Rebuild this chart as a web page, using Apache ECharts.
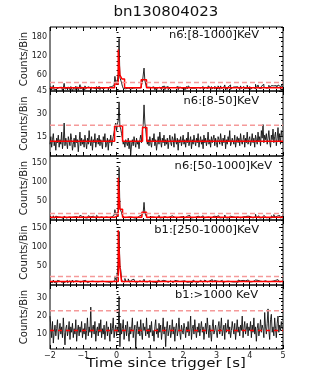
<!DOCTYPE html>
<html>
<head>
<meta charset="utf-8">
<script src="https://cdn.jsdelivr.net/npm/echarts@6/dist/echarts.min.js"></script>
<style>
html, body { margin: 0; padding: 0; background: #fff; }
#chart { width: 332px; height: 388px; }
</style>
</head>
<body>
<div id="chart"></div>
<script>
// light curve bins: 0.025 s wide, starting at -2 s (20 bins per row = 0.5 s)
var binStart = -2;
var binWidth = 0.025;

// n6:[8-1000]KeV
var counts1 = [
    16, 24, 13, 21, 28, 13, 19, 16, 20, 19, 21, 17, 20, 22, 24, 11, 20, 34, 16, 19,
    20, 13, 23, 23, 14, 24, 23, 10, 18, 20, 15, 25, 16, 23, 11, 20, 30, 16, 23, 15,
    21, 14, 26, 18, 12, 23, 21, 25, 20, 13, 22, 16, 19, 20, 22, 16, 24, 21, 16, 25,
    14, 21, 18, 17, 21, 21, 21, 16, 21, 21, 12, 22, 16, 24, 19, 19, 27, 27, 56, 38,
    30, 36, 61, 175, 52, 46, 36, 25, 18, 18, 17, 18, 18, 19, 20, 15, 16, 12, 17, 19,
    17, 20, 20, 15, 20, 20, 20, 18, 20, 25, 24, 37, 43, 82, 43, 32, 22, 16, 22, 16,
    20, 21, 16, 20, 23, 24, 14, 21, 12, 20, 22, 22, 23, 20, 14, 24, 18, 25, 14, 21,
    16, 24, 14, 20, 21, 20, 20, 21, 21, 15, 21, 21, 16, 24, 14, 20, 23, 21, 18, 19,
    24, 15, 22, 15, 24, 17, 26, 21, 19, 20, 16, 19, 21, 24, 19, 18, 19, 21, 23, 16,
    19, 24, 16, 24, 15, 21, 21, 21, 18, 18, 26, 22, 20, 13, 24, 17, 22, 24, 16, 23,
    17, 16, 26, 20, 15, 26, 18, 19, 22, 18, 29, 13, 22, 15, 23, 19, 29, 15, 20, 22,
    18, 19, 23, 18, 18, 23, 23, 21, 14, 26, 18, 18, 24, 23, 17, 19, 19, 28, 16, 20,
    24, 15, 20, 22, 21, 21, 17, 31, 19, 18, 29, 19, 20, 18, 25, 24, 31, 23, 23, 19,
    25, 20, 20, 28, 19, 13, 27, 21, 26, 25, 22, 27, 19, 20, 29, 24, 24, 15, 28, 23
];
// n6:[8-50]KeV
var counts2 = [
    10, 15, 8, 13, 17, 9, 12, 6, 14, 11, 16, 8, 13, 10, 18, 7, 12, 24, 9, 14,
    11, 7, 15, 12, 9, 17, 13, 6, 10, 14, 8, 16, 11, 13, 5, 12, 18, 9, 14, 10,
    13, 8, 16, 11, 7, 14, 10, 19, 12, 9, 15, 6, 13, 11, 17, 8, 12, 14, 10, 16,
    9, 13, 11, 7, 15, 12, 17, 8, 10, 14, 6, 13, 11, 16, 9, 12, 15, 18, 21, 24,
    19, 23, 26, 38, 22, 20, 17, 14, 10, 12, 8, 13, 11, 9, 14, 7, 12, 3, 10, 13,
    9, 15, 11, 8, 14, 10, 12, 7, 13, 16, 11, 19, 23, 36, 24, 20, 14, 10, 13, 9,
    15, 11, 8, 14, 12, 17, 9, 13, 6, 11, 15, 10, 18, 12, 8, 14, 11, 16, 9, 13,
    10, 14, 7, 12, 16, 11, 9, 15, 13, 8, 17, 12, 10, 14, 6, 13, 11, 15, 9, 12,
    16, 10, 13, 8, 14, 11, 18, 9, 12, 15, 7, 13, 10, 16, 12, 9, 14, 11, 17, 8,
    12, 15, 10, 13, 7, 16, 11, 14, 9, 12, 18, 10, 13, 8, 15, 11, 12, 16, 9, 14,
    11, 8, 15, 13, 10, 17, 12, 9, 14, 11, 16, 7, 13, 10, 15, 12, 19, 9, 11, 14,
    13, 10, 16, 8, 12, 15, 11, 14, 9, 17, 12, 10, 13, 16, 8, 14, 11, 18, 10, 13,
    15, 9, 12, 17, 11, 14, 8, 16, 13, 10, 18, 12, 15, 9, 19, 14, 23, 11, 16, 13,
    17, 10, 14, 19, 12, 8, 16, 13, 20, 11, 15, 18, 9, 14, 21, 12, 17, 10, 19, 15
];
// n6:[50-1000]KeV
var counts3 = [
    6, 9, 5, 8, 11, 4, 7, 10, 6, 8, 5, 9, 7, 12, 6, 4, 8, 10, 7, 5,
    9, 6, 8, 11, 5, 7, 10, 4, 8, 6, 7, 9, 5, 10, 6, 8, 12, 7, 9, 5,
    8, 6, 10, 7, 5, 9, 11, 6, 8, 4, 7, 10, 6, 9, 5, 8, 12, 7, 6, 9,
    5, 8, 7, 10, 6, 9, 4, 8, 11, 7, 6, 9, 5, 8, 10, 7, 12, 9, 27, 14,
    11, 13, 35, 137, 30, 26, 19, 11, 8, 6, 9, 5, 7, 10, 6, 8, 4, 9, 7, 6,
    8, 5, 9, 7, 6, 10, 8, 11, 7, 9, 13, 18, 20, 46, 19, 12, 8, 6, 9, 7,
    5, 10, 8, 6, 11, 7, 5, 8, 6, 9, 7, 12, 5, 8, 6, 10, 7, 9, 5, 8,
    6, 10, 7, 8, 5, 9, 11, 6, 8, 7, 4, 9, 6, 10, 8, 7, 12, 6, 9, 7,
    8, 5, 9, 7, 10, 6, 8, 12, 7, 5, 9, 6, 11, 8, 7, 9, 5, 10, 6, 8,
    7, 9, 6, 11, 8, 5, 10, 7, 9, 6, 8, 12, 7, 5, 9, 6, 10, 8, 7, 9,
    6, 8, 11, 7, 5, 9, 6, 10, 8, 7, 13, 6, 9, 5, 8, 7, 10, 6, 9, 8,
    5, 9, 7, 10, 6, 8, 12, 7, 5, 9, 6, 8, 11, 7, 9, 5, 8, 10, 6, 7,
    9, 6, 8, 5, 10, 7, 9, 15, 6, 8, 11, 7, 5, 9, 6, 10, 8, 12, 7, 6,
    8, 10, 6, 9, 7, 5, 11, 8, 6, 14, 7, 9, 10, 6, 8, 12, 7, 5, 9, 8
];
// b1:[250-1000]KeV
var counts4 = [
    8, 11, 6, 9, 13, 7, 10, 5, 9, 12, 7, 10, 8, 14, 6, 9, 11, 7, 10, 8,
    12, 6, 9, 11, 8, 5, 10, 13, 7, 9, 11, 8, 6, 10, 9, 12, 7, 10, 8, 11,
    9, 7, 12, 8, 10, 6, 11, 9, 13, 7, 10, 8, 12, 9, 6, 11, 8, 10, 7, 9,
    11, 8, 10, 6, 12, 9, 7, 11, 8, 10, 13, 7, 9, 11, 8, 10, 6, 12, 20, 16,
    11, 14, 58, 140, 46, 40, 15, 9, 12, 8, 17, 10, 14, 9, 16, 11, 7, 10, 13, 9,
    15, 12, 8, 10, 7, 12, 9, 11, 6, 10, 8, 13, 11, 15, 9, 12, 8, 10, 7, 11,
    9, 13, 8, 10, 12, 7, 9, 11, 6, 10, 13, 8, 9, 11, 7, 12, 10, 8, 11, 9,
    10, 7, 12, 9, 11, 8, 13, 6, 10, 9, 12, 8, 11, 7, 10, 9, 14, 8, 10, 12,
    8, 11, 9, 13, 7, 10, 12, 8, 9, 11, 6, 10, 13, 9, 8, 12, 10, 7, 11, 9,
    12, 8, 10, 7, 11, 9, 13, 10, 8, 12, 9, 11, 7, 10, 14, 8, 9, 12, 10, 8,
    10, 13, 7, 9, 11, 8, 12, 10, 6, 11, 9, 13, 8, 10, 12, 7, 9, 11, 10, 8,
    9, 11, 8, 12, 10, 7, 13, 9, 11, 8, 10, 12, 7, 9, 11, 10, 8, 13, 9, 11,
    8, 12, 10, 9, 11, 7, 13, 10, 8, 12, 9, 11, 10, 14, 8, 9, 12, 10, 11, 9,
    11, 8, 10, 13, 9, 12, 7, 10, 11, 9, 12, 8, 10, 14, 9, 11, 8, 12, 10, 9
];
// b1:>1000 KeV
var counts5 = [
    20, 14, 8, 17, 5, 11, 15, 9, 13, 18, 7, 12, 16, 10, 14, 8, 19, 11, 4, 13,
    15, 9, 12, 17, 7, 14, 11, 16, 8, 13, 10, 18, 6, 12, 15, 9, 14, 11, 17, 8,
    13, 10, 16, 7, 12, 19, 9, 14, 11, 25, 8, 13, 15, 10, 17, 6, 12, 14, 9, 16,
    11, 18, 8, 13, 10, 15, 7, 12, 17, 9, 14, 11, 6, 16, 10, 13, 19, 8, 12, 15,
    9, 14, 11, 31, 3, 16, 10, 13, 18, 7, 12, 15, 9, 17, 11, 6, 14, 10, 13, 19,
    8, 12, 15, 2, 13, 17, 10, 14, 9, 18, 11, 7, 16, 12, 14, 9, 19, 10, 13, 8,
    15, 11, 17, 9, 12, 6, 14, 18, 10, 13, 8, 16, 11, 15, 7, 12, 19, 10, 14, 3,
    13, 17, 9, 12, 15, 8, 11, 18, 10, 14, 6, 13, 16, 9, 12, 19, 11, 7, 15, 12,
    10, 16, 13, 8, 14, 11, 17, 9, 12, 20, 7, 13, 15, 10, 18, 12, 8, 14, 11, 16,
    9, 13, 17, 11, 14, 7, 12, 16, 10, 19, 13, 8, 15, 11, 6, 14, 18, 10, 12, 15,
    11, 8, 14, 17, 10, 13, 19, 9, 12, 15, 7, 16, 11, 13, 18, 10, 14, 8, 12, 17,
    13, 10, 16, 7, 12, 18, 11, 14, 9, 15, 12, 20, 8, 13, 17, 10, 11, 16, 9, 14,
    12, 17, 8, 15, 11, 19, 10, 14, 6, 13, 16, 9, 12, 18, 11, 15, 13, 8, 22, 14,
    10, 16, 24, 12, 7, 18, 21, 11, 14, 9, 19, 13, 8, 16, 20, 11, 15, 12, 17, 13
];

// red block curves (edges in s, levels in counts/bin)
var blockEdges1 = [-2, -0.06, 0.05, 0.1, 0.16, 0.24, 0.74, 0.9, 5];
var blockLevels1 = [20, 32, 140, 60, 48, 20, 45, 20];
var blockEdges2 = [-2, -0.06, 0.18, 0.78, 0.91, 5];
var blockLevels2 = [12, 22, 12, 21, 12];
var blockEdges3 = [-2, -0.06, 0.05, 0.1, 0.18, 0.76, 0.9, 5];
var blockLevels3 = [7, 12, 110, 28, 7, 20, 7];
var blockEdges4 = [-2, 0.05, 0.1, 0.15, 5];
var blockLevels4 = [9, 143, 45, 9];
var blockEdges5 = [-2, 5];
var blockLevels5 = [12];

var thresholds = [37, 22.5, 17, 22, 23];
var panelNames = ['n6:[8-1000]KeV', 'n6:[8-50]KeV', 'n6:[50-1000]KeV', 'b1:[250-1000]KeV', 'b1:>1000 KeV'];
var yRanges = [[10, 211], [2.2, 45.2], [0, 167], [0, 170], [1.7, 37.3]];
var yMajorTicks = [[60, 120, 180], [15, 30, 45], [50, 100, 150], [50, 100, 150], [10, 20, 30]];
var yMinorSteps = [15, 3.75, 10, 10, 2];

var allCounts = [counts1, counts2, counts3, counts4, counts5];
var allEdges = [blockEdges1, blockEdges2, blockEdges3, blockEdges4, blockEdges5];
var allLevels = [blockLevels1, blockLevels2, blockLevels3, blockLevels4, blockLevels5];

var gridTops = [27, 91, 156, 220, 285];
var gridHeights = [64, 65, 64, 65, 64];
var labelRight = [259, 259, 272, 259, 258];
var labelY = [35, 101, 166, 230, 295];

function histPoints(values) {
    var pts = [];
    for (var i = 0; i < values.length; i++) {
        pts.push([+(binStart + i * binWidth).toFixed(3), values[i]]);
    }
    pts.push([binStart + values.length * binWidth, values[values.length - 1]]);
    return pts;
}

function blockPoints(edges, levels) {
    var pts = [];
    for (var k = 0; k < levels.length; k++) {
        pts.push([edges[k], levels[k]]);
    }
    pts.push([edges[edges.length - 1], levels[levels.length - 1]]);
    return pts;
}

function minorValues(range, step, major) {
    var vals = [];
    var v = Math.ceil(range[0] / step) * step;
    for (; v <= range[1]; v += step) {
        if (major.indexOf(v) < 0) vals.push(v);
    }
    return vals;
}

function textEl(str, x, y, size, scaleX, align) {
    return {
        type: 'text', x: x, y: y, scaleX: scaleX,
        style: {
            text: str, fill: '#111', fontSize: size, fontFamily: 'DejaVu Sans',
            align: align, verticalAlign: 'middle',
            textAlign: align, textVerticalAlign: 'middle'
        }
    };
}

var chartDom = document.getElementById('chart');
var myChart = echarts.init(chartDom);
var grids = [], xAxes = [], yAxes = [], series = [], graphics = [];
var g;

for (g = 0; g < 5; g++) {
    var last = g === 4;
    grids.push({
        left: 50, right: 49, top: gridTops[g], height: gridHeights[g],
        show: true, borderColor: '#000', borderWidth: 1,
        backgroundColor: 'transparent', containLabel: false, outerBoundsMode: 'none'
    });
    ['bottom', 'top'].forEach(function (pos) {
        xAxes.push({
            type: 'value', gridIndex: g, position: pos,
            min: -2, max: 5, interval: 1,
            axisLine: { show: false },
            splitLine: { show: false },
            axisTick: { show: true, inside: true, length: 4, lineStyle: { color: '#000' } },
            minorTick: { show: true, splitNumber: 5, length: 2, lineStyle: { color: '#000' } },
            axisLabel: {
                show: last && pos === 'bottom', fontSize: 8, margin: 3, color: '#222',
                fontFamily: 'DejaVu Sans',
                formatter: function (v) { return v < 0 ? '\u2212' + (-v) : '' + v; }
            }
        });
    });
    var minor = minorValues(yRanges[g], yMinorSteps[g], yMajorTicks[g]);
    ['left', 'right'].forEach(function (pos) {
        yAxes.push({
            type: 'value', gridIndex: g, position: pos,
            min: yRanges[g][0], max: yRanges[g][1],
            axisLine: { show: false },
            splitLine: { show: false },
            axisTick: { show: true, inside: true, length: 4, customValues: yMajorTicks[g], lineStyle: { color: '#000' } },
            axisLabel: {
                show: pos === 'left', customValues: yMajorTicks[g], fontSize: 8, margin: 3,
                color: '#222', fontFamily: 'DejaVu Sans'
            },
            name: pos === 'left' ? 'Counts/Bin' : '',
            nameLocation: 'middle', nameGap: 21, nameMoveOverlap: false,
            nameTextStyle: { fontSize: 10, color: '#222', fontFamily: 'DejaVu Sans' }
        });
        yAxes.push({
            type: 'value', gridIndex: g, position: pos,
            min: yRanges[g][0], max: yRanges[g][1],
            axisLine: { show: false },
            splitLine: { show: false },
            axisTick: { show: true, inside: true, length: 2, customValues: minor, lineStyle: { color: '#000' } },
            axisLabel: { show: false }
        });
    });

    series.push({
        type: 'line', xAxisIndex: 2 * g, yAxisIndex: 4 * g,
        data: histPoints(allCounts[g]), step: 'end', symbol: 'none',
        lineStyle: { color: '#111', width: 0.9 }, z: 2
    });
    series.push({
        type: 'line', xAxisIndex: 2 * g, yAxisIndex: 4 * g,
        data: blockPoints(allEdges[g], allLevels[g]), step: 'end', symbol: 'none',
        lineStyle: { color: '#ff0000', width: 1.5, type: last ? [4, 4] : 'solid' }, z: 3
    });
    series.push({
        type: 'line', xAxisIndex: 2 * g, yAxisIndex: 4 * g,
        data: [[-2, thresholds[g]], [5, thresholds[g]]], symbol: 'none',
        lineStyle: { color: '#f59a9a', width: 1.5, type: [5, 3] }, z: 4
    });

    graphics.push(textEl(panelNames[g], labelRight[g], labelY[g], 10, 1.15, 'right'));
}

graphics.push(textEl('bn130804023', 166, 12, 14, 1.07, 'center'));
graphics.push(textEl('Time since trigger [s]', 166, 364, 13, 1.15, 'center'));

var option = {
    animation: false,
    backgroundColor: '#fff',
    grid: grids,
    xAxis: xAxes,
    yAxis: yAxes,
    series: series,
    graphic: graphics
};
option && myChart.setOption(option);
</script>
</body>
</html>
